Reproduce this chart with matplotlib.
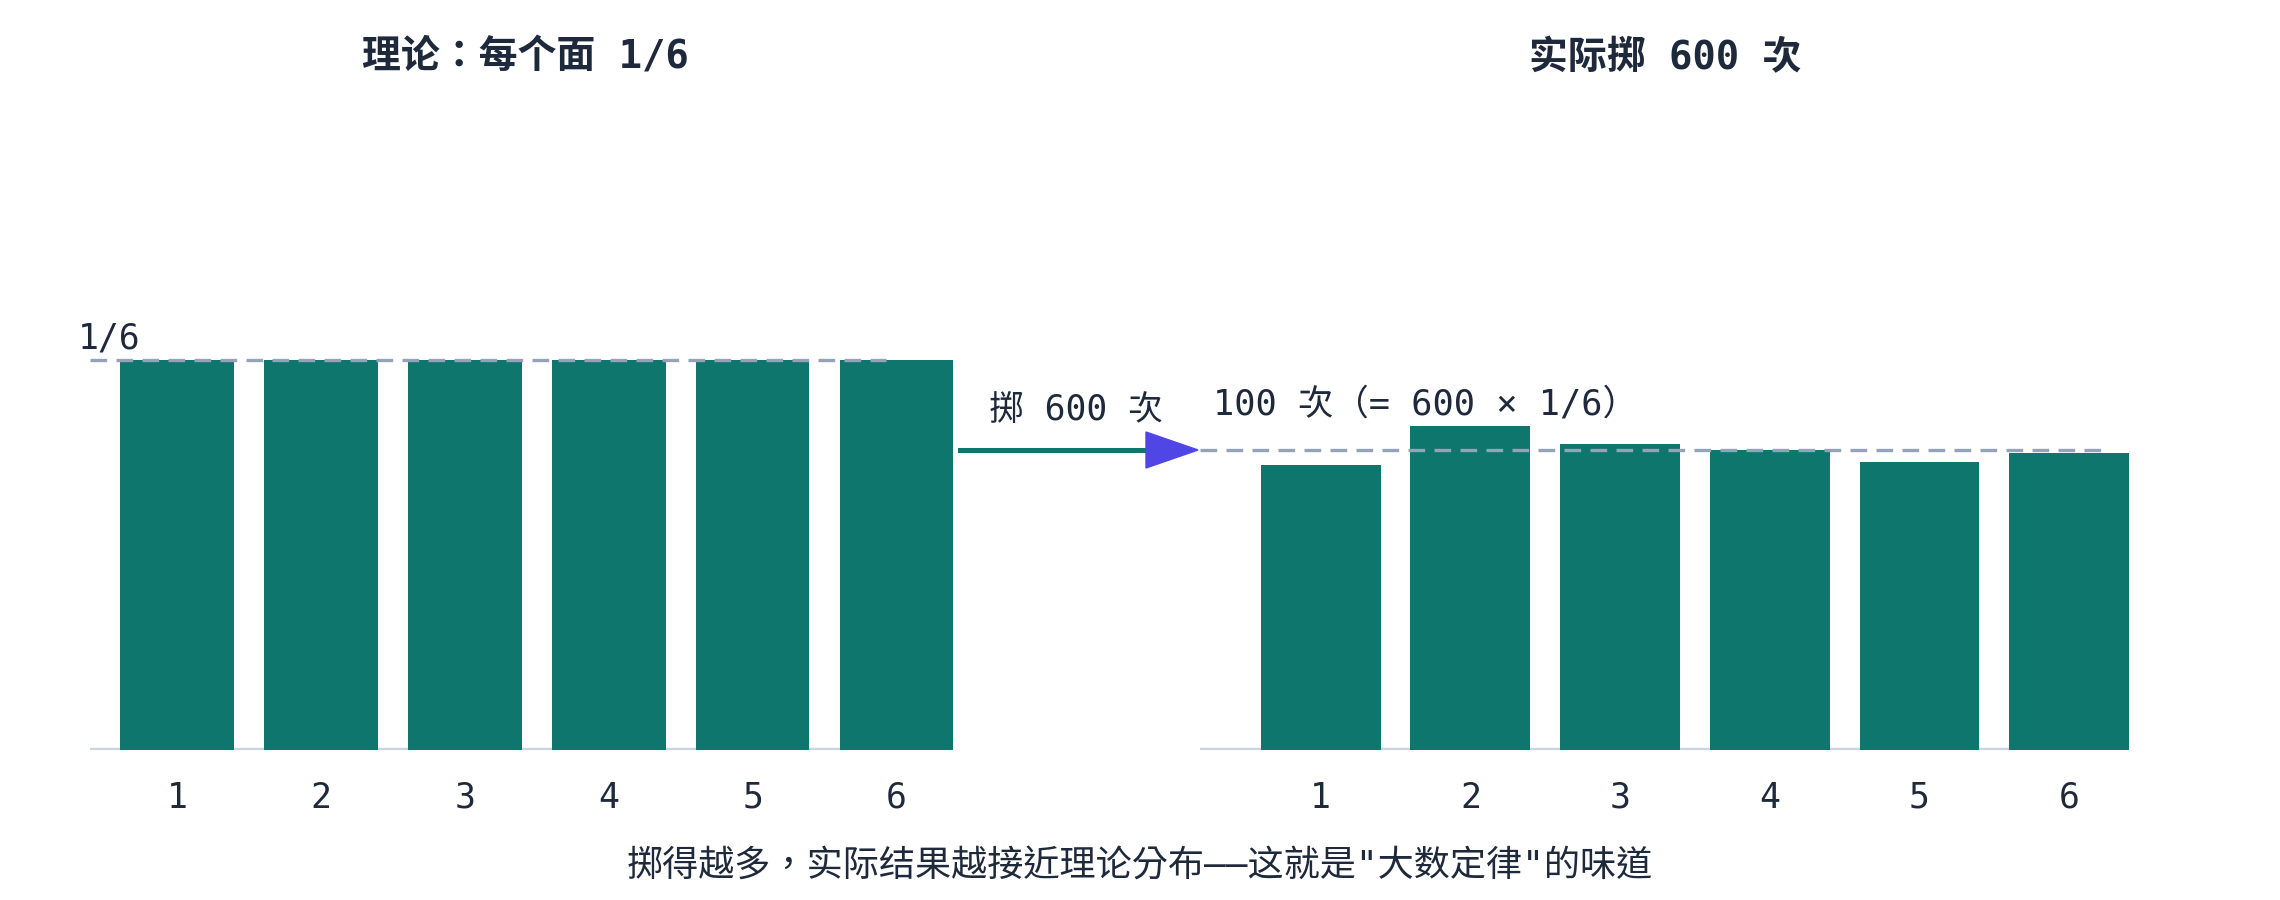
import matplotlib
matplotlib.use('Agg')
import matplotlib.pyplot as plt
from matplotlib.patches import Polygon
from matplotlib.lines import Line2D

plt.rcParams['font.family'] = ['DejaVu Sans Mono', 'Noto Sans CJK TC']

# data
faces = ['1', '2', '3', '4', '5', '6']
theory_prob = [1/6, 1/6, 1/6, 1/6, 1/6, 1/6]
actual_counts = [95, 108, 102, 100, 96, 99]
n_rolls = 600
expected_count = 100

title_left = '理论：每个面 1/6'
title_right = '实际掷 600 次'
arrow_text = '掷 600 次'
expected_text = '100 次（= 600 × 1/6）'
caption = '掷得越多，实际结果越接近理论分布——这就是"大数定律"的味道'

teal = '#0f766e'
indigo = '#4f46e5'
dash_col = '#94a3b8'
axis_col = '#cbd5e1'
text_col = '#1e293b'

W, H = 2280, 900
fig = plt.figure(figsize=(W / 100, H / 100), dpi=100)


def fx(px):
    return px / W


def fy(py):
    return 1 - py / H


ax1 = fig.add_axes([fx(90), fy(750), 864 / W, 600 / H])
ax2 = fig.add_axes([fx(1200), fy(750), 929 / W, 600 / H])

x = list(range(len(faces)))

ax1.bar(x, theory_prob, width=0.79, color=teal, zorder=2)
ax1.set_xlim(-0.606, 5.4)
ax1.set_ylim(0, (1/6) * 600 / 390)
ax1.hlines(0, -0.606, 5.02, color=axis_col, lw=3.2, zorder=1)
ax1.hlines(1/6, -0.606, 4.93, color=dash_col, lw=2.4, linestyles=(0, (5, 2.8)), zorder=3)
ax1.annotate('1/6', xy=(-0.606, 1/6), xytext=(-12, 12), textcoords='offset pixels',
             ha='left', va='baseline', fontsize=25, color=text_col)

ax2.bar(x, actual_counts, width=0.8, color=teal, zorder=2)
ax2.set_xlim(-0.806, 5.4)
ax2.set_ylim(0, 200)
ax2.hlines(0, -0.806, 5.2, color=axis_col, lw=3.2, zorder=1)
ax2.hlines(expected_count, -0.806, 5.21, color=dash_col, lw=2.4, linestyles=(0, (5, 2.8)), zorder=3)
ax2.annotate(expected_text, xy=(-0.806, expected_count), xytext=(13, 36), textcoords='offset pixels',
             ha='left', va='baseline', fontsize=25.5, color=text_col)

for ax in (ax1, ax2):
    ax.set_xticks(x)
    ax.set_xticklabels(faces)
    ax.tick_params(axis='x', length=0, pad=22, labelsize=25, labelcolor=text_col)
    ax.set_yticks([])
    for s in ax.spines.values():
        s.set_visible(False)
    ax.patch.set_alpha(0)

# titles
fig.text(fx(525), fy(58), title_left, ha='center', va='center', fontsize=28,
         fontweight='bold', color=text_col)
fig.text(fx(1665), fy(58), title_right, ha='center', va='center', fontsize=28,
         fontweight='bold', color=text_col)

# arrow between panels
fig.add_artist(Line2D([fx(960), fx(1147)], [fy(450), fy(450)], color=teal, lw=3.6,
                      transform=fig.transFigure))
fig.add_artist(Polygon([[fx(1146), fy(432)], [fx(1146), fy(468)], [fx(1198), fy(450)]],
                       closed=True, color=indigo, transform=fig.transFigure, zorder=5))
fig.text(fx(1076), fy(420), arrow_text, ha='center', va='baseline', fontsize=25, color=text_col)

fig.text(0.5, fy(867), caption, ha='center', va='center', fontsize=26, color=text_col)

fig.savefig('out.png', dpi=100, facecolor='white')
